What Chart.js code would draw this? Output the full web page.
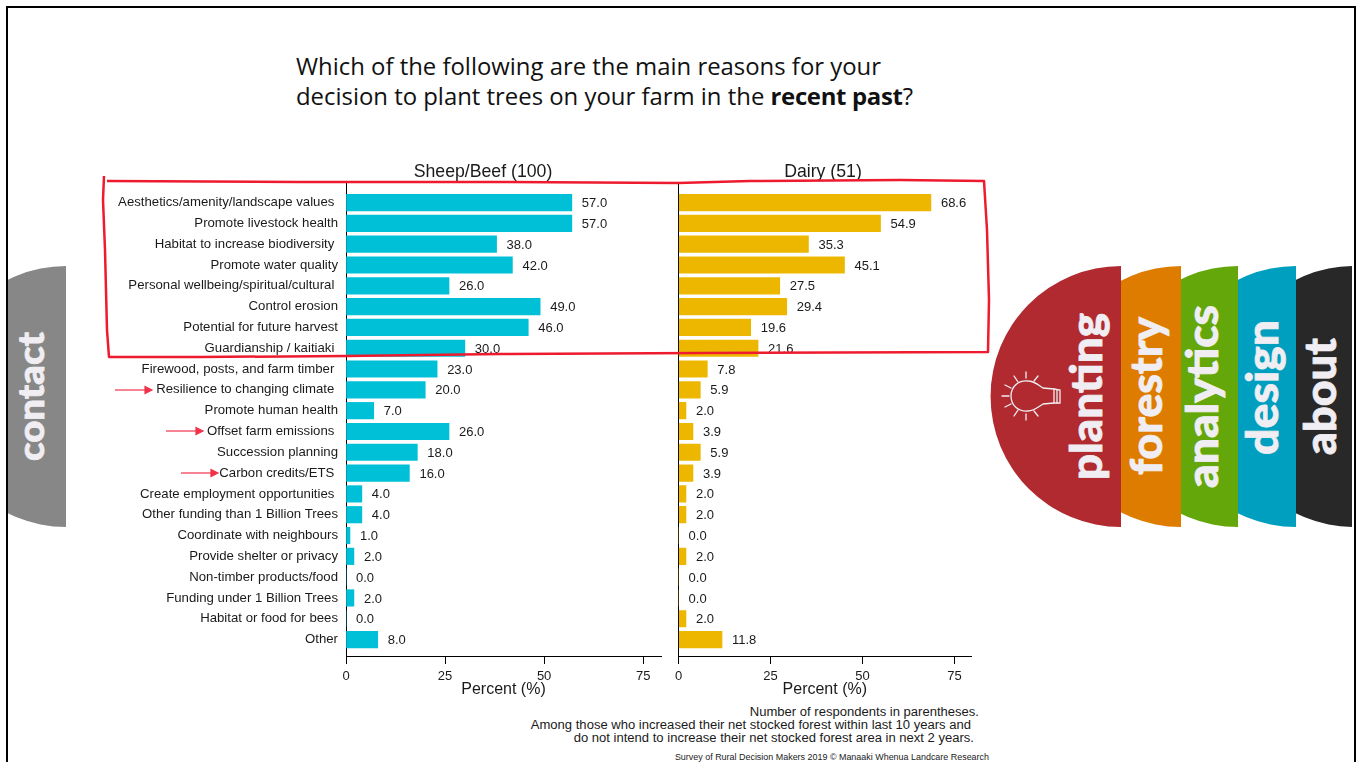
<!DOCTYPE html>
<html>
<head>
<meta charset="utf-8">
<title>Reasons for planting trees</title>
<script src="https://cdn.jsdelivr.net/npm/chart.js@4/dist/chart.umd.min.js"></script>
<style>
    html, body { margin: 0; padding: 0; background: #fff; overflow: hidden; }
    #slide { position: relative; width: 1361px; height: 762px; overflow: hidden; font-family: "Liberation Sans", Arial, sans-serif; color: #1a1a1a; }
    #frame { position: absolute; left: 6px; top: 6px; width: 1346px; height: 800px; border: 2px solid #000; }
    svg, canvas { position: absolute; left: 0; top: 0; }
    #leftChart { left: 100px; top: 150px; }
    #rightChart { left: 670px; top: 150px; }
    #overlay { pointer-events: none; }
    .title { position: absolute; left: 296px; top: 51px; font-family: "Open Sans", sans-serif; font-size: 23.9px; line-height: 30px; color: #111; white-space: nowrap; }
    .title b { letter-spacing: -0.3px; }
    .note { position: absolute; white-space: nowrap; font-size: 13.05px; line-height: 14px; }
    .source { position: absolute; white-space: nowrap; font-size: 8.95px; line-height: 10px; right: 372px; top: 752px; color: #222; }
    .nav { font-family: Lato, sans-serif; font-weight: 900; fill: #f0eef2; stroke: #f0eef2; stroke-width: 0.8; }
</style>
</head>
<body>
<div id="slide">
    <svg id="tabs" width="1361" height="762">
        <defs><clipPath id="inside"><rect x="8" y="8" width="1344" height="754"/></clipPath></defs>
        <g clip-path="url(#inside)">
            <path d="M1354 266 A130.5 130.5 0 0 0 1354 527 Z" fill="#282828"/>
            <path d="M1296 266 A130.5 130.5 0 0 0 1296 527 Z" fill="#009fbf"/>
            <path d="M1238 266 A130.5 130.5 0 0 0 1238 527 Z" fill="#63a70a"/>
            <path d="M1181 266 A130.5 130.5 0 0 0 1181 527 Z" fill="#de7c00"/>
            <path d="M1121 266 A130.5 130.5 0 0 0 1121 527 Z" fill="#b02a30"/>
            <path d="M66 266 A130.5 130.5 0 0 0 66 527 Z" fill="#878787"/>
        </g>
        <text class="nav" font-size="44" textLength="167" lengthAdjust="spacingAndGlyphs" transform="translate(1102 480) rotate(-90)">planting</text>
        <text class="nav" font-size="44" textLength="158" lengthAdjust="spacingAndGlyphs" transform="translate(1162 475) rotate(-90)">forestry</text>
        <text class="nav" font-size="44" textLength="183" lengthAdjust="spacingAndGlyphs" transform="translate(1218 488) rotate(-90)">analytics</text>
        <text class="nav" font-size="44" textLength="135" lengthAdjust="spacingAndGlyphs" transform="translate(1278 455) rotate(-90)">design</text>
        <text class="nav" font-size="44" textLength="117" lengthAdjust="spacingAndGlyphs" transform="translate(1336 455) rotate(-90)">about</text>
        <text class="nav" font-size="36" textLength="129" lengthAdjust="spacingAndGlyphs" transform="translate(44 461) rotate(-90)">contact</text>
        <!-- light bulb on the planting tab -->
        <g fill="none" stroke="#f0eef2" stroke-width="1.3" stroke-linecap="round">
            <path d="M1043 388 C1037 384 1034 381 1028 381 C1018 380 1011 387 1011 396 C1011 405 1018 412 1028 411 C1034 411 1038 407 1043 404 L1054 403 L1060 403 L1060 390 L1054 389 Z"/>
            <path d="M1054 389 L1054 403 M1057 390 L1057 403"/>
            <path d="M1026 372 L1026 378 M1026 414 L1026 420 M1002 396 L1009 396 M1014 376 L1018 382 M1038 376 L1034 381 M1014 416 L1018 410 M1038 416 L1034 411 M1005 385 L1011 388 M1005 407 L1011 404"/>
        </g>
    </svg>
    <div id="frame"></div>

    <div class="title">Which of the following are the main reasons for your<br>decision to plant trees on your farm in the <b>recent past</b>?</div>
    <div class="note" style="right:382px; top:705px;">Number of respondents in parentheses.</div>
    <div class="note" style="right:390px; top:718px;">Among those who increased their net stocked forest within last 10 years and</div>
    <div class="note" style="right:387px; top:731px;">do not intend to increase their net stocked forest area in next 2 years.</div>
    <div class="source">Survey of Rural Decision Makers 2019 © Manaaki Whenua Landcare Research</div>

    <canvas id="leftChart" width="570" height="560"></canvas>
    <canvas id="rightChart" width="310" height="560"></canvas>

    <svg id="overlay" width="1361" height="762">
        <path d="M104 176 L103 200 L105 250 L107 330 L109 357 L200 357 L346 356 L500 354 L700 353 L988 352 L989 300 L987 230 L984 181 L900 180 L750 181 L678 183 L500 182 L300 182 L107 181" fill="none" stroke="#ee1b2e" stroke-width="2.5" stroke-linejoin="round"/>
        <g stroke="#f0324a" stroke-width="1.2" fill="#f0324a">
            <path d="M115 390 L146 390"/><path d="M145 386.5 L152 390 L145 393.5 Z"/>
            <path d="M166 431 L197 431"/><path d="M196 427.5 L203 431 L196 434.5 Z"/>
            <path d="M181 473 L212 473"/><path d="M211 469.5 L218 473 L211 476.5 Z"/>
        </g>
    </svg>
</div>

<script>
// Trailing spaces are in the source labels too, they nudge the right edge
const categories = [
    'Aesthetics/amenity/landscape values ', 'Promote livestock health', 'Habitat to increase biodiversity ',
    'Promote water quality', 'Personal wellbeing/spiritual/cultural ', 'Control erosion',
    'Potential for future harvest', 'Guardianship / kaitiaki ', 'Firewood, posts, and farm timber ',
    'Resilience to changing climate ', 'Promote human health', 'Offset farm emissions ',
    'Succession planning', 'Carbon credits/ETS ', 'Create employment opportunities ',
    'Other funding than 1 Billion Trees', 'Coordinate with neighbours', 'Provide shelter or privacy',
    'Non-timber products/food', 'Funding under 1 Billion Trees', 'Habitat or food for bees', 'Other'
];
const sheepBeef = [57, 57, 38, 42, 26, 49, 46, 30, 23, 20, 7, 26, 18, 16, 4, 4, 1, 2, 0, 2, 0, 8];
const dairy = [68.6, 54.9, 35.3, 45.1, 27.5, 29.4, 19.6, 21.6, 7.8, 5.9, 2.0, 3.9, 5.9, 3.9, 2.0, 2.0, 0, 2.0, 0, 0, 2.0, 11.8];
const percentTicks = [0, 25, 50, 75];

const FONT = '"Liberation Sans", Arial, sans-serif';

// Value labels plus the panel header, which is not centred on the plot in the source
const panelText = {
    id: 'panelText',
    afterDatasetsDraw(chart, args, opts) {
        const ctx = chart.ctx;
        ctx.save();
        ctx.fillStyle = '#1a1a1a';
        ctx.textBaseline = 'middle';
        ctx.textAlign = 'left';
        ctx.font = '13px ' + FONT;
        chart.getDatasetMeta(0).data.forEach((bar, i) => {
            const value = chart.data.datasets[0].data[i].x;
            ctx.fillText(value.toFixed(1), bar.x + 10, bar.y + 1);
        });
        ctx.textAlign = 'center';
        ctx.font = '17.7px ' + FONT;
        ctx.fillText(opts.header, opts.headerX, 22);
        ctx.restore();
    }
};

function makePanel(canvasId, values, color, labelWidth, rightPad, panel) {
    return new Chart(document.getElementById(canvasId), {
        type: 'bar',
        data: {
            labels: categories,
            datasets: [{
                data: values.map((v, i) => ({ x: v, y: i })),
                backgroundColor: color,
                barThickness: 16.5
            }]
        },
        plugins: [panelText],
        options: {
            indexAxis: 'y',
            responsive: false,
            animation: false,
            layout: { padding: { top: 33, right: rightPad, bottom: 0, left: 0 } },
            plugins: {
                legend: { display: false },
                title: { display: false },
                tooltip: { enabled: false },
                panelText: panel
            },
            scales: {
                x: {
                    type: 'linear',
                    min: 0,
                    max: 79.5,
                    afterBuildTicks: scale => { scale.ticks = percentTicks.map(v => ({ value: v })); },
                    afterFit: scale => { scale.height = 54; },
                    border: { color: '#000', width: 1 },
                    grid: { drawOnChartArea: false, drawTicks: true, tickLength: 8, color: '#000' },
                    ticks: { color: '#1a1a1a', font: { family: FONT, size: 13 }, padding: 5, maxRotation: 0 },
                    title: {
                        display: true,
                        text: 'Percent (%)',
                        color: '#1a1a1a',
                        font: { family: FONT, size: 16 },
                        padding: { top: 0, bottom: 11 }
                    }
                },
                y: {
                    type: 'linear',
                    reverse: true,
                    offset: false,
                    min: -0.94,
                    max: 21.79,
                    afterBuildTicks: scale => { scale.ticks = categories.map((c, i) => ({ value: i })); },
                    afterFit: scale => { scale.width = labelWidth; },
                    border: { color: '#000', width: 1 },
                    grid: { offset: false, drawOnChartArea: false, drawTicks: false },
                    ticks: {
                        display: labelWidth > 50,
                        autoSkip: false,
                        color: '#1a1a1a',
                        font: { family: FONT, size: 13.2 },
                        padding: 8,
                        callback: value => categories[value]
                    }
                }
            }
        }
    });
}

document.addEventListener('DOMContentLoaded', function() {
    makePanel('leftChart', sheepBeef, '#00c0d8', 246, 9, { header: 'Sheep/Beef (100)', headerX: 383 });
    makePanel('rightChart', dairy, '#edb700', 8, 9, { header: 'Dairy (51)', headerX: 153 });
});
</script>
</body>
</html>
